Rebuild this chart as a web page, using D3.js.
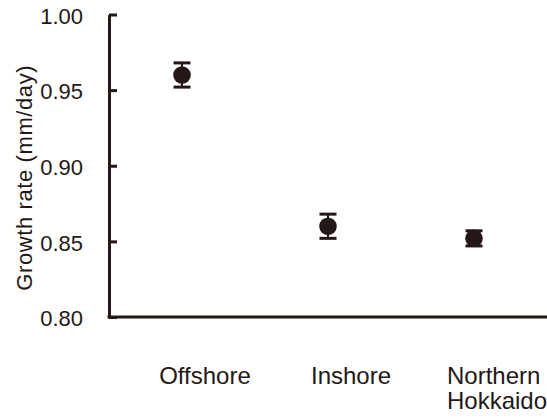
<!DOCTYPE html>
<html>
<head>
<meta charset="utf-8">
<script src="https://cdn.jsdelivr.net/npm/d3@7"></script>
<style>
  html, body { margin: 0; padding: 0; background: #fff; }
  svg { display: block; }
  text { font-family: "Liberation Sans", Arial, sans-serif; fill: #231815; }
</style>
</head>
<body>
<div id="chart"></div>
<script>
// Growth rate by region: mean and error
const categories = ["Offshore", "Inshore", "Northern\nHokkaido"];
const means = [0.960, 0.860, 0.852];
const errors = [0.008, 0.008, 0.005];
const yTicks = [0.80, 0.85, 0.90, 0.95, 1.00];

const W = 547, H = 420;
const ink = "#231815";
const margin = { left: 109, right: 0, top: 14.5, bottom: 103 };

const svg = d3.select("#chart").append("svg")
  .attr("width", W).attr("height", H);

const x = d3.scalePoint()
  .domain(categories)
  .range([margin.left, W - margin.right])
  .padding(0.5);

const y = d3.scaleLinear()
  .domain([0.80, 1.00])
  .range([H - margin.bottom, margin.top]);

// Y axis with inward ticks
const yAxis = svg.append("g")
  .attr("transform", `translate(${margin.left},0)`)
  .call(d3.axisLeft(y).tickValues(yTicks).tickFormat(d3.format(".2f"))
    .tickSizeInner(-8).tickSizeOuter(0).tickPadding(26));
yAxis.select(".domain").attr("stroke", ink).attr("stroke-width", 3);
yAxis.selectAll(".tick line").attr("stroke", ink).attr("stroke-width", 3);
yAxis.selectAll(".tick text")
  .attr("font-size", 22)
  .attr("dy", "0.4em")
  .style("font-family", "'Liberation Sans', Arial, sans-serif")
  .attr("fill", ink);

// X baseline
svg.append("line")
  .attr("x1", margin.left - 1.5).attr("x2", W)
  .attr("y1", y(0.80)).attr("y2", y(0.80))
  .attr("stroke", ink).attr("stroke-width", 3);

// Category labels (multi-line, left-aligned inside a centred block)
const labelOffset = 23;
categories.forEach(c => {
  const lines = c.split("\n");
  const t = svg.append("text")
    .attr("font-size", 24);
  lines.forEach((ln, i) => {
    t.append("tspan").text(ln).attr("y", 384 + i * 25);
  });
  const widths = [];
  t.selectAll("tspan").each(function () { widths.push(this.getComputedTextLength()); });
  const maxW = d3.max(widths);
  const cx = x(c) + labelOffset;
  t.selectAll("tspan").attr("x", lines.length > 1 ? cx - maxW / 2 : cx)
    .attr("text-anchor", lines.length > 1 ? "start" : "middle");
});

// Y axis title
svg.append("text")
  .attr("transform", `translate(32,${(y(0.80) + y(1.00)) / 2 + 12}) rotate(-90)`)
  .attr("text-anchor", "middle")
  .attr("font-size", 22)
  .attr("letter-spacing", 0.6)
  .text("Growth rate (mm/day)");

// Error bars and markers
const data = categories.map((c, i) => ({ c, m: means[i], e: errors[i] }));
const capW = 17;
const g = svg.append("g").selectAll("g").data(data).join("g");
g.append("line")
  .attr("x1", d => x(d.c)).attr("x2", d => x(d.c))
  .attr("y1", d => y(d.m + d.e)).attr("y2", d => y(d.m - d.e))
  .attr("stroke", ink).attr("stroke-width", 2);
g.selectAll(".cap").data(d => [d.m + d.e, d.m - d.e].map(v => ({ c: d.c, v })))
  .join("line")
  .attr("x1", d => x(d.c) - capW / 2).attr("x2", d => x(d.c) + capW / 2)
  .attr("y1", d => y(d.v)).attr("y2", d => y(d.v))
  .attr("stroke", ink).attr("stroke-width", 3);
g.append("circle")
  .attr("cx", d => x(d.c)).attr("cy", d => y(d.m))
  .attr("r", 8.8)
  .attr("fill", ink);
</script>
</body>
</html>
